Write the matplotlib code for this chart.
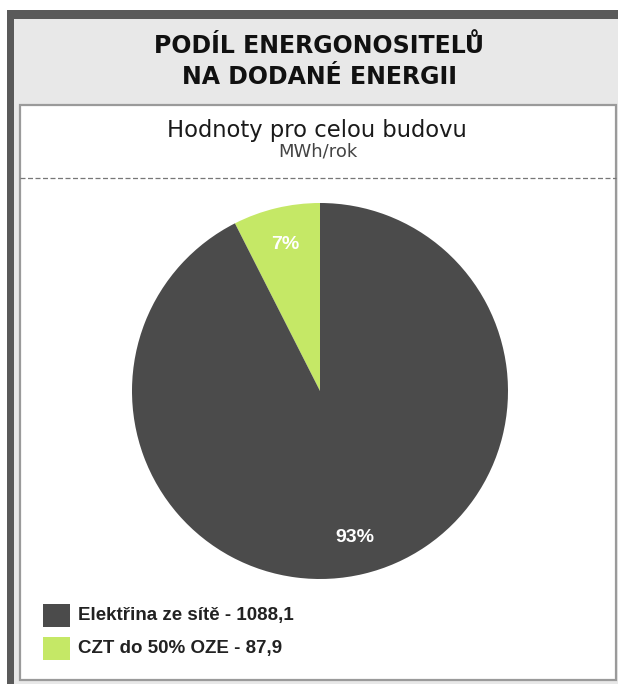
import matplotlib.pyplot as plt
from matplotlib.patches import Rectangle

# Data
labels = ['Elektřina ze sítě', 'CZT do 50% OZE']
values = [1088.1, 87.9]
colors = ['#4b4b4b', '#c5e866']
title_lines = ['PODÍL ENERGONOSITELŮ', 'NA DODANÉ ENERGII']
subtitle = 'Hodnoty pro celou budovu'
unit = 'MWh/rok'

W, H = 618, 684
fig = plt.figure(figsize=(W / 100, H / 100), dpi=100)
ax = fig.add_axes([0, 0, 1, 1])

def Y(y):
    # pixel row from top -> data y
    return H - y

# Frame: dark outer border, light header, white panel
ax.add_patch(Rectangle((7, Y(684)), W, 684 - 10, facecolor='#5a5a5a', edgecolor='none'))
ax.add_patch(Rectangle((14, Y(684)), W, 684 - 19, facecolor='#e8e8e8', edgecolor='none'))
ax.add_patch(Rectangle((20, Y(680)), 596, 680 - 105, facecolor='white',
                       edgecolor='#9a9a9a', linewidth=1.6))

# Titles
ax.text(319, Y(46), title_lines[0], ha='center', va='center', fontsize=17,
        fontweight='bold', family='DejaVu Sans', color='#111111')
ax.text(319, Y(77), title_lines[1], ha='center', va='center', fontsize=17,
        fontweight='bold', family='DejaVu Sans', color='#111111')
ax.text(317, Y(131), subtitle, ha='center', va='center', fontsize=16.3,
        family='DejaVu Sans', color='#1a1a1a')
ax.text(318, Y(152), unit, ha='center', va='center', fontsize=13,
        family='DejaVu Sans', color='#444444')
ax.plot([20, 616], [Y(178), Y(178)], color='#777777', linewidth=0.9,
        linestyle=(0, (4, 2)))

# Pie
cx, cy, r = 320, 391, 188
wedges, texts, autotexts = ax.pie(
    values[::-1], colors=colors[::-1], startangle=90, counterclock=True,
    center=(cx, Y(cy)), radius=r, autopct='%1.0f%%', pctdistance=0.8,
    textprops=dict(color='white', fontsize=14, fontweight='bold',
                   family='Liberation Sans'))
ax.set_xlim(0, W)
ax.set_ylim(0, H)
ax.set_aspect('auto')
ax.axis('off')

# Legend
for i, (lab, val, col) in enumerate(zip(labels, values, colors)):
    top = 604 + i * 33
    ax.add_patch(Rectangle((43, Y(top + 23)), 27, 23, facecolor=col, edgecolor='none'))
    ax.text(78, Y(top + 11.5), f'{lab} - {val:.1f}'.replace('.', ','), ha='left',
            va='center', fontsize=13.5, fontweight='bold', family='Liberation Sans',
            color='#222222')

fig.savefig('out.png', dpi=100)
